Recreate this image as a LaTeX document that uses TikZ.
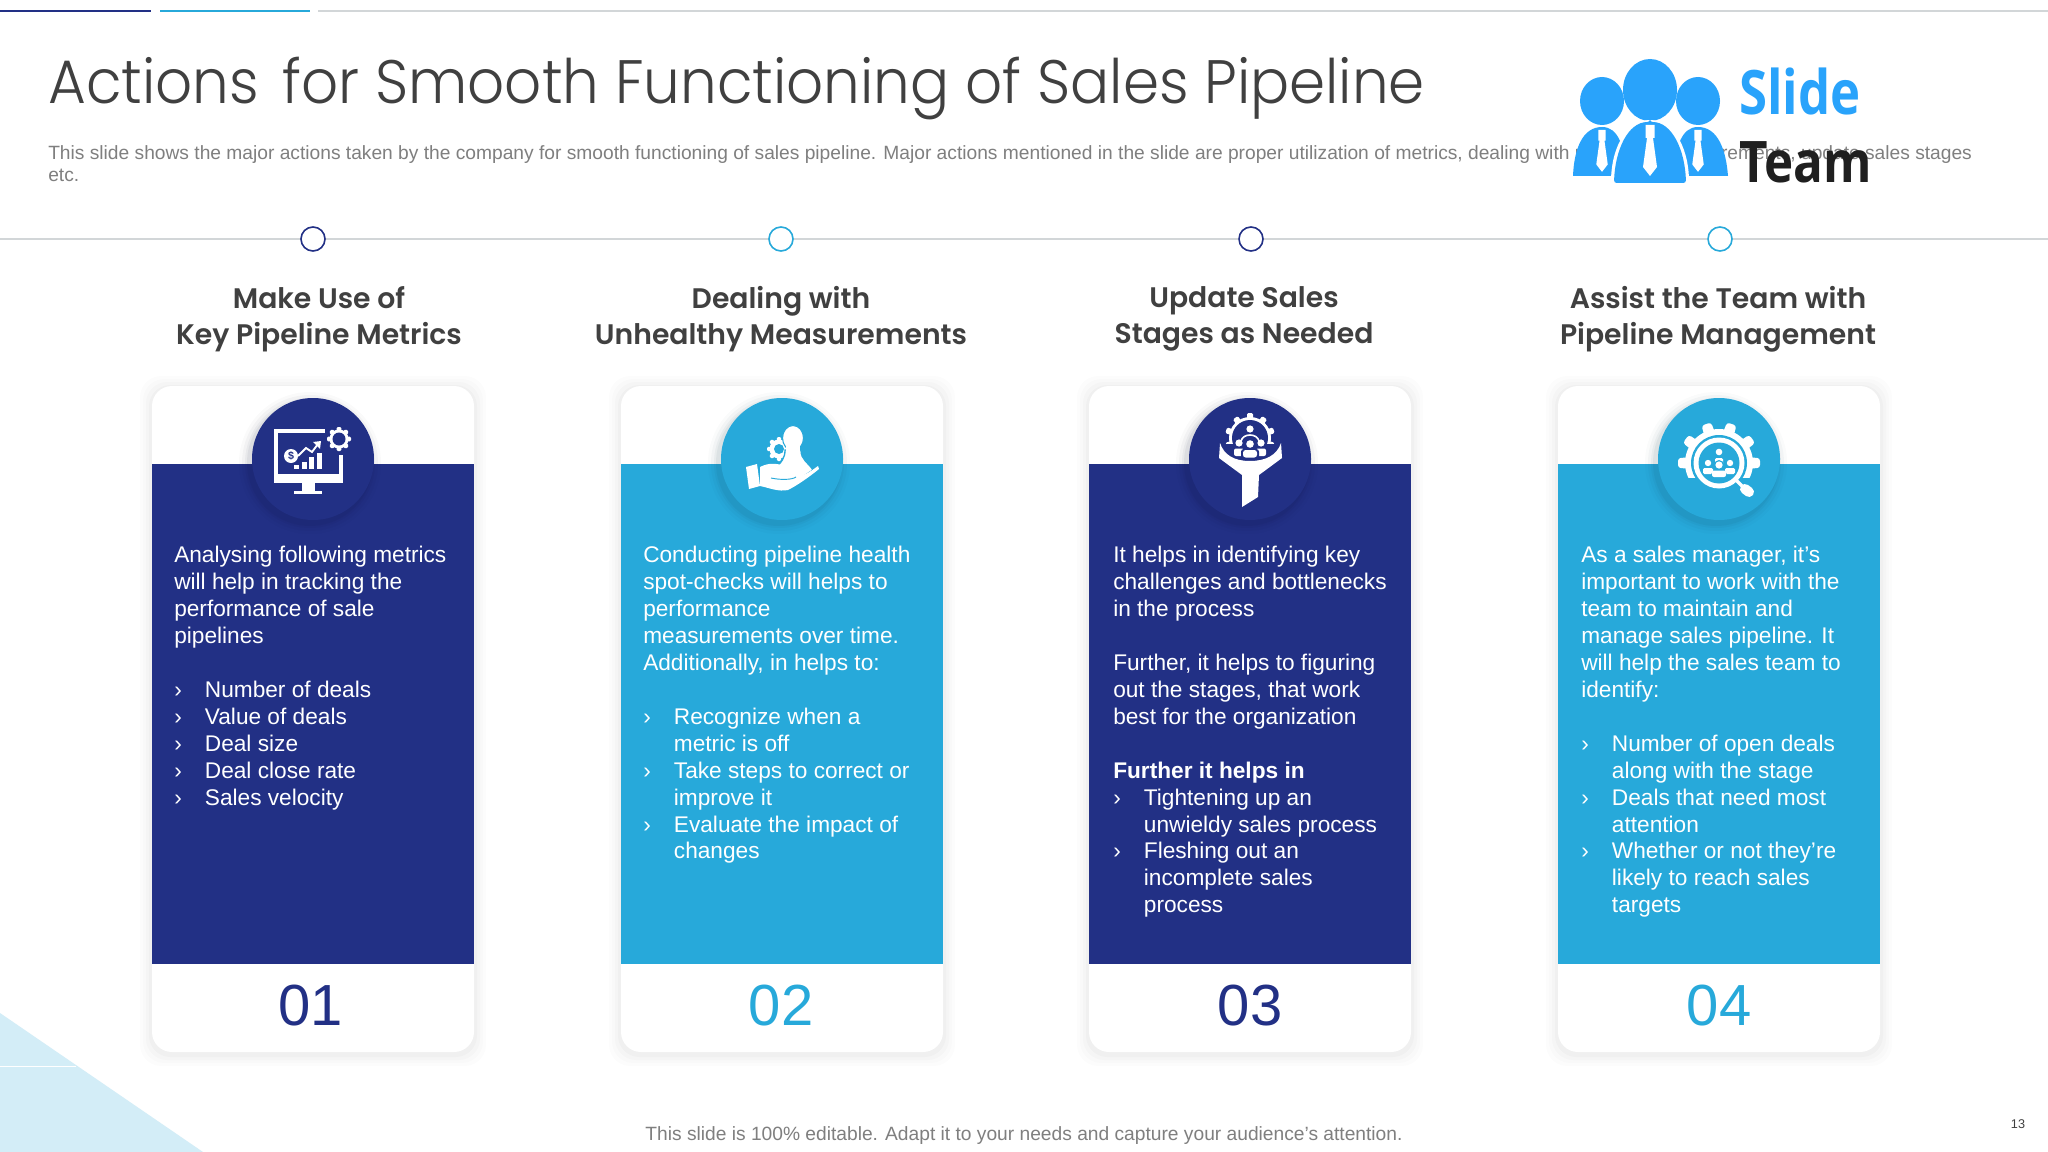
\documentclass[tikz,border=0pt]{standalone}
\usepackage{fontspec}
\setmainfont{Liberation Sans}
\newfontfamily\titlefont{Poppins Light}
\newfontfamily\headfont{Poppins SemiBold}
\newfontfamily\logofont{Open Sans}
\definecolor{navy}{HTML}{223085}
\definecolor{sky}{HTML}{27A9DA}
\definecolor{graytxt}{HTML}{7F7F7F}
\definecolor{darktxt}{HTML}{404040}
\definecolor{rule}{HTML}{D2D6D8}
\definecolor{tri}{HTML}{D3EDF7}
\definecolor{logob}{HTML}{29A3FB}
\tikzset{
 x=0.75pt,y=-0.75pt,
 head/.style={font=\headfont\fontsize{21.2}{27}\selectfont,text=darktxt,align=center,anchor=center,inner sep=0pt},
 body/.style={font=\fontsize{17}{20.2}\selectfont,text=white,align=left,anchor=north west,inner sep=0pt},
 num/.style={font=\fontsize{43.5}{50}\selectfont,anchor=base,inner sep=0pt},
 dotc/.style={circle,fill=white,line width=1.2pt,minimum size=18pt,inner sep=0pt},
}
\newcommand{\bl}[1]{\makebox[23pt][l]{›}#1}
\newcommand{\bc}[1]{\hspace*{23pt}#1}
\newcommand{\gearic}[6]{%
 \fill[white] (#1,#2) circle [radius=#4];
 \foreach \a in {1,...,#5}{
  \fill[white,rotate around={\a*360/#5:(#1,#2)},rounded corners=1pt] (#1-#6,#2) rectangle (#1+#6,#2-#3);
 }}
\newcommand{\cardbox}[4]{%
 \foreach \k/\o in {12/.01,9/.012,6/.016,3/.02}{
  \fill[black,opacity=\o,rounded corners=16pt] (#2-\k,386-\k+2) rectangle (#2+322+\k,1052+\k+2);}
 \fill[white,rounded corners=15pt] (#2,386) rectangle (#2+322,1052);
 \fill[#3] (#2,464) rectangle (#2+322,964);
 \foreach \k/\o in {10/.02,7/.03,4/.04,2/.05}{
  \fill[black!70!#3,opacity=\o] (#4-3,459+4) circle [radius=61+\k];}
 \fill[#3] (#4,459) circle [radius=61];
 \node[inner sep=0pt] (#1) at (#4,459) {};
}
\begin{document}
\begin{tikzpicture}
\useasboundingbox (0,0) rectangle (2048,1152);
\fill[white] (0,0) rectangle (2048,1152);
\fill[tri] (0,1013) -- (203,1152) -- (0,1152) -- cycle;
\draw[white,line width=0.6pt] (0,1066) -- (76,1066);
\draw[navy,line width=1.5pt] (0,11) -- (151,11);
\draw[sky,line width=1.5pt] (160,11) -- (310,11);
\draw[rule,line width=1.2pt] (318,11) -- (2048,11);
\draw[rule,line width=1pt] (0,239) -- (2048,239);
\foreach \x/\c in {313/navy,781/sky,1251/navy,1720/sky}{
 \node[dotc,draw=\c] at (\x,239) {};
}
\node[anchor=base west,inner sep=0pt,text=darktxt,font=\titlefont\fontsize{46}{50}\selectfont] (title) at (48,104) {\scalebox{.945}[1]{Actions\hspace{6pt} for Smooth Functioning of Sales Pipeline}};
\node[anchor=base west,inner sep=0pt,text=graytxt,font=\fontsize{14.4}{17}\selectfont] (desc1) at (48,160) {This slide shows the major actions taken by the company for smooth functioning of sales pipeline. Major actions mentioned in the slide are proper utilization of metrics, dealing with unhealthy measurements, update sales stages};
\node[anchor=base west,inner sep=0pt,text=graytxt,font=\fontsize{14.4}{17}\selectfont] (desc2) at (48,181) {etc.};
% logo
\begin{scope}
 \fill[logob] (1602,101) ellipse [x radius=22,y radius=24];
 \fill[logob] (1698,101) ellipse [x radius=22,y radius=24];
 \fill[logob] (1650,90) ellipse [x radius=27,y radius=31];
 \fill[logob] (1573,176) .. controls (1574,150) and (1582,127) .. (1602,127) .. controls (1618,127) and (1624,145) .. (1628,176) -- cycle;
 \fill[logob] (1728,176) .. controls (1726,150) and (1718,127) .. (1698,127) .. controls (1682,127) and (1676,145) .. (1672,176) -- cycle;
 \fill[white] (1650,120) .. controls (1625,120) and (1610,150) .. (1611,186) -- (1689,186) .. controls (1690,150) and (1675,120) .. (1650,120) -- cycle;
 \fill[logob,rounded corners=2pt] (1650,122) .. controls (1628,122) and (1615,150) .. (1614,183) -- (1686,183) .. controls (1685,150) and (1672,122) .. (1650,122) -- cycle;
 \foreach \x/\t/\s in {1602/130/.82,1698/130/.82,1650/125/1}{
  \fill[white] (\x-4.5*\s,\t) rectangle (\x+4.5*\s,\t+13*\s)
   (\x-3*\s,\t+13*\s) -- (\x+3*\s,\t+13*\s) -- (\x+7*\s,\t+42*\s) -- (\x,\t+51*\s) -- (\x-7*\s,\t+42*\s) -- cycle;
 }
 \node[anchor=base west,inner sep=0pt,text=logob,font=\logofont\bfseries\fontsize{46}{50}\selectfont] (slide) at (1739,115) {\scalebox{.83}[1]{Slide}};
 \node[anchor=base west,inner sep=0pt,text=black!88,font=\logofont\bfseries\fontsize{43}{50}\selectfont] (team) at (1739,183) {\scalebox{.86}[1]{Team}};
\end{scope}
\node[head] (h1) at (319,319) {Make Use of\\Key Pipeline Metrics};
\node[head] (h2) at (781,319) {Dealing with\\Unhealthy Measurements};
\node[head] (h3) at (1244,319) {Update Sales\\Stages as Needed};
\node[head] (h4) at (1718,319) {Assist the Team with\\Pipeline Management};
\cardbox{c1}{152}{navy}{313}
\cardbox{c2}{621}{sky}{782}
\cardbox{c3}{1089}{navy}{1250}
\cardbox{c4}{1558}{sky}{1719}
\node[body] (b1) at (174,546) {Analysing following metrics\\will help in tracking the\\performance of sale\\pipelines\\[20.2pt]\bl{Number of deals}\\\bl{Value of deals}\\\bl{Deal size}\\\bl{Deal close rate}\\\bl{Sales velocity}};
\node[body] (b2) at (643,546) {Conducting pipeline health\\spot-checks will helps to\\performance\\measurements over time.\\Additionally, in helps to:\\[20.2pt]\bl{Recognize when a}\\\bc{metric is off}\\\bl{Take steps to correct or}\\\bc{improve it}\\\bl{Evaluate the impact of}\\\bc{changes}};
\node[body] (b3) at (1113,546) {It helps in identifying key\\challenges and bottlenecks\\in the process\\[20.2pt]Further, it helps to figuring\\out the stages, that work\\best for the organization\\[20.2pt]\textbf{Further it helps in}\\\bl{Tightening up an}\\\bc{unwieldy sales process}\\\bl{Fleshing out an}\\\bc{incomplete sales}\\\bc{process}};
\node[body] (b4) at (1581,546) {As a sales manager, it’s\\important to work with the\\team to maintain and\\manage sales pipeline. It\\will help the sales team to\\identify:\\[20.2pt]\bl{Number of open deals}\\\bc{along with the stage}\\\bl{Deals that need most}\\\bc{attention}\\\bl{Whether or not they’re}\\\bc{likely to reach sales}\\\bc{targets}};
\node[num,text=navy] (n1) at (311,1025) {01};
\node[num,text=sky] (n2) at (781,1025) {02};
\node[num,text=navy] (n3) at (1250,1025) {03};
\node[num,text=sky] (n4) at (1719,1025) {04};
\node[anchor=base,inner sep=0pt,text=graytxt,font=\fontsize{14.4}{17}\selectfont] (foot) at (1024,1140) {This slide is 100\% editable. Adapt it to your needs and capture your audience's attention.};
\node[anchor=base,inner sep=0pt,text=darktxt,font=\fontsize{9.5}{11}\selectfont] (page) at (2018,1128) {13};
% icon 1
\begin{scope}
 \draw[white,line width=3pt] (325,431) -- (276,431) -- (276,480) -- (341,480) -- (341,455);
 \fill[white] (274,474) rectangle (343,483);
 \fill[white] (302,483) rectangle (315,491);
 \fill[white] (294,491) rectangle (322,494);
 \foreach \a/\b in {294/465,302/462,309/457,317/453}{\fill[white] (\a,\b) rectangle (\a+4.8,469);}
 \draw[white,line width=1.4pt] (298,456) -- (306,448) -- (312,452) -- (318,444);
 \fill[white] (321,441) -- (313,442) -- (320,449) -- cycle;
 \fill[white] (291,456) circle [radius=7];
 \node[text=navy,inner sep=0pt,font=\bfseries\fontsize{8}{8}\selectfont] at (291,456) {\$};
 \gearic{339}{439}{12}{9.5}{8}{2.4}
 \fill[navy] (339,439) circle [radius=6.5];
\end{scope}
% icon 2
\begin{scope}
 \gearic{779}{449}{12}{9.5}{8}{2.2}
 \fill[sky] (779,449) circle [radius=5];
 \fill[white,draw=sky,line width=1pt] (773,470) .. controls (782,462) and (785,458) .. (785,450) -- (801,450) .. controls (801,460) and (808,462) .. (813,470) -- (798,480) -- (784,478) -- cycle;
 \fill[white,draw=sky,line width=.8pt] (793,438) ellipse [x radius=10.5,y radius=12.5];
 \fill[white] (786,446) rectangle (800,456);
 \fill[white] (746,467) -- (757,464) -- (760,486) -- (749,489) -- cycle;
 \fill[white] (760,467) .. controls (770,462) and (778,463) .. (790,468) .. controls (796,471) and (800,474) .. (800,476) .. controls (808,474) and (815,468) .. (818,466) -- (819,469) .. controls (808,478) and (796,486) .. (788,490) .. controls (778,492) and (770,488) .. (760,486) -- cycle;
 \draw[sky,line width=0.7pt] (771,478) .. controls (780,480) and (792,480) .. (796,477);
\end{scope}
% icon 3
\begin{scope}
 \gearic{1250}{438}{25}{21}{10}{3}
 \fill[navy] (1250,438) circle [radius=18];
 \fill[navy] (1219,444) rectangle (1281,462);
 \fill[white] (1220,443) .. controls (1224,455) and (1234,461) .. (1250,461) .. controls (1266,461) and (1277,455) .. (1281,443) -- (1282,458) -- (1259,475) -- (1258,497) -- (1242,507) -- (1242,475) -- (1219,458) -- cycle;
 \fill[white] (1250,429) circle [radius=3.6];
 \draw[white,line width=1.2pt] (1241,441) .. controls (1243,433) and (1257,433) .. (1259,441);
 \foreach \p/\q/\r in {1239/443/3.6,1261/443/3.6}{\fill[white] (\p,\q) circle [radius=\r];}
 \foreach \p in {1239,1261}{\fill[white,rounded corners=1.5pt] (\p-5,456) -- (\p-5,448.5) -- (\p+5,448.5) -- (\p+5,456) -- cycle;}
 \fill[navy] (1250,444) circle [radius=5];
 \fill[white] (1250,444) circle [radius=3.8];
 \fill[navy,rounded corners=2pt] (1241,459) -- (1241,449) -- (1259,449) -- (1259,459) -- cycle;
 \fill[white,rounded corners=2pt] (1243,457.5) -- (1243,450) -- (1257,450) -- (1257,457.5) -- cycle;
\end{scope}
% icon 4
\begin{scope}
 \begin{scope}
  \clip (1670,415) rectangle (1770,477);
  \fill[white] (1719,463) circle [radius=34];
  \foreach \a in {1,...,10}{
   \fill[white,rotate around={(\a-.5)*36:(1719,463)},rounded corners=2.2pt] (1712,463) -- (1714,422) -- (1724,422) -- (1726,463) -- cycle;
  }
 \end{scope}
 \fill[sky] (1719,463) circle [radius=28];
 \fill[white] (1719,463) circle [radius=25.5];
 \fill[sky] (1719,463) circle [radius=20.5];
 \draw[white,line width=2.6pt] (1736,480) -- (1742,486);
 \draw[white,line width=7.5pt,line cap=round] (1745,489) -- (1749,492);
 \fill[white] (1719,452) circle [radius=3.3];
 \fill[white,rounded corners=1pt] (1715,465) -- (1715,458) -- (1723,458) -- (1723,465) -- cycle;
 \foreach \p in {1708,1730}{
  \fill[white] (\p,463) circle [radius=3.2];
  \fill[white,rounded corners=1pt] (\p-5,474) -- (\p-5,468) -- (\p+5,468) -- (\p+5,474) -- cycle;
 }
 \fill[sky] (1719,465) circle [radius=5];
 \fill[white] (1719,465) circle [radius=3.6];
 \fill[sky] (1719,476) ellipse [x radius=8,y radius=7];
 \fill[white,rounded corners=1.5pt] (1712,477) -- (1712,470.5) -- (1726,470.5) -- (1726,477) -- cycle;
\end{scope}
\end{tikzpicture}
\end{document}
